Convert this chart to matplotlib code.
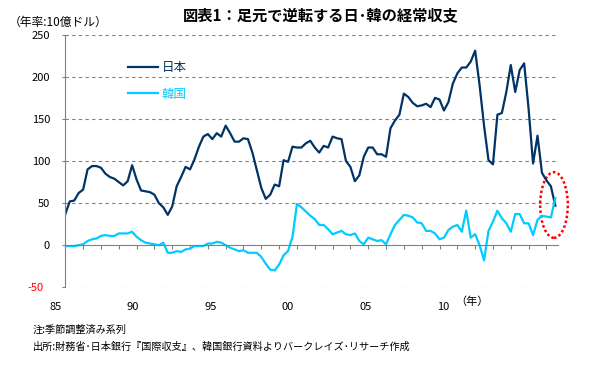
import matplotlib.pyplot as plt
from matplotlib.patches import Ellipse
from matplotlib.transforms import ScaledTranslation, blended_transform_factory

plt.rcParams['font.family'] = ['Noto Sans CJK JP', 'DejaVu Sans']

# quarterly, 1985Q1 - 2012Q3, annualized (10 bn USD)
japan = [37, 52, 53, 62, 66, 90, 94, 94, 92, 85,
         81, 79, 75, 71, 76, 95, 78, 65, 64, 63,
         60, 50, 45, 36, 46, 70, 81, 93, 90, 102,
         117, 129, 132, 126, 133, 129, 142, 133, 123, 123,
         127, 126, 110, 89, 68, 55, 60, 72, 70, 101,
         99, 117, 116, 116, 121, 124, 116, 110, 118, 116,
         129, 127, 126, 100, 93, 76, 83, 105, 116, 116,
         108, 108, 105, 139, 148, 155, 180, 176, 169, 165,
         166, 168, 164, 175, 173, 160, 170, 192, 204, 211,
         211, 218, 231, 190, 142, 101, 96, 155, 157, 182,
         214, 182, 208, 216, 162, 97, 130, 86, 77, 70,
         47]
korea = [-1, -1, -1, 0, 1, 5, 7, 8, 11, 12,
         11, 11, 14, 14, 14, 16, 10, 6, 3, 2,
         1, 0, 3, -9, -9, -7, -8, -5, -4, -1,
         -1, -1, 2, 2, 4, 3, 0, -3, -5, -7,
         -6, -9, -9, -9, -14, -22, -29, -30, -23, -12,
         -7, 10, 49, 45, 40, 35, 31, 24, 24, 19,
         13, 15, 17, 13, 12, 14, 5, 1, 9, 7,
         5, 6, 1, 13, 24, 30, 36, 35, 33, 27,
         26, 17, 17, 14, 7, 9, 18, 22, 24, 16,
         41, 9, 13, 0, -18, 17, 28, 41, 32, 26,
         16, 37, 37, 26, 26, 12, 30, 35, 34, 33,
         56]
year_labels = ['85', '90', '95', '00', '05', '10']
year_label_pos = [-2.1, 15.2, 32.7, 50.0, 67.5, 84.8]
y_ticks = [-50, 0, 50, 100, 150, 200, 250]

jp_color = '#003366'
kr_color = '#00CCFF'
grid_color = '#808080'

fig = plt.figure(figsize=(6, 3.66), dpi=100)
ax = fig.add_axes([65.3 / 600, 1 - 287.3 / 366, 492.7 / 600, 252.6 / 366])

x = list(range(len(japan)))
ax.plot(x, japan, color=jp_color, lw=1.6, label='日本')
ax.plot(x, korea, color=kr_color, lw=1.6, label='韓国')

ax.set_xlim(0, 110.6)
ax.set_ylim(-50, 250)

# grid
for v in [-50, 50, 100, 150, 200, 250]:
    ax.axhline(v, color=grid_color, lw=0.8, ls=(0, (3, 3)), zorder=0)

ax.spines['top'].set_visible(False)
ax.spines['right'].set_visible(False)
ax.spines['left'].set_color(grid_color)
ax.spines['bottom'].set_color(grid_color)
ax.spines['bottom'].set_position(('data', 0))

ax.set_xticks(range(0, 110, 4))
ax.tick_params(axis='x', direction='out', length=3, color=grid_color,
               labelbottom=False)
ax.set_yticks(y_ticks)
ax.set_yticklabels([str(v) for v in y_ticks])
ax.tick_params(axis='y', direction='out', length=2.5, color=grid_color,
               pad=8.5, labelsize=8)
for lab in ax.get_yticklabels():
    if lab.get_text().startswith('-'):
        lab.set_color('red')
        lab.set_transform(lab.get_transform() +
                          ScaledTranslation(-6.5 / 100, 0, fig.dpi_scale_trans))

# year labels placed by hand as in the original
trans = blended_transform_factory(ax.transData, ax.transAxes)
for pos, lab in zip(year_label_pos, year_labels):
    ax.text(pos, -0.078, lab, transform=trans, ha='center', va='center',
            fontsize=8)
fig.text(471.7 / 600, 1 - 302 / 366, '（年）', ha='center', va='center',
         fontsize=8)

# legend
ax.legend(loc='upper left', bbox_to_anchor=(0.127, 0.896), frameon=False,
          fontsize=9, handlelength=2.4, handletextpad=0.3, labelspacing=1.1,
          borderpad=0, borderaxespad=0, labelcolor='linecolor')

# red dotted ellipse
ax.add_patch(Ellipse((109.7, 47.7), 6.2, 78, fill=False, ec='red', lw=1.8,
                     ls=(0, (1, 1)), clip_on=False))

fig.text(321 / 600, 1 - 15 / 366, '図表1：足元で逆転する日･韓の経常収支',
         ha='center', va='center', fontsize=11, fontweight='bold')
fig.text(9 / 600, 1 - 22.7 / 366, '（年率:10億ドル）', ha='left', va='center',
         fontsize=8.5)
fig.text(33 / 600, 1 - 330 / 366, '注:季節調整済み系列', ha='left',
         va='center', fontsize=7.3)
fig.text(33 / 600, 1 - 346.7 / 366,
         '出所:財務省･日本銀行『国際収支』、韓国銀行資料よりバークレイズ･リサーチ作成',
         ha='left', va='center', fontsize=7.3)

fig.savefig('out.png', dpi=100)
